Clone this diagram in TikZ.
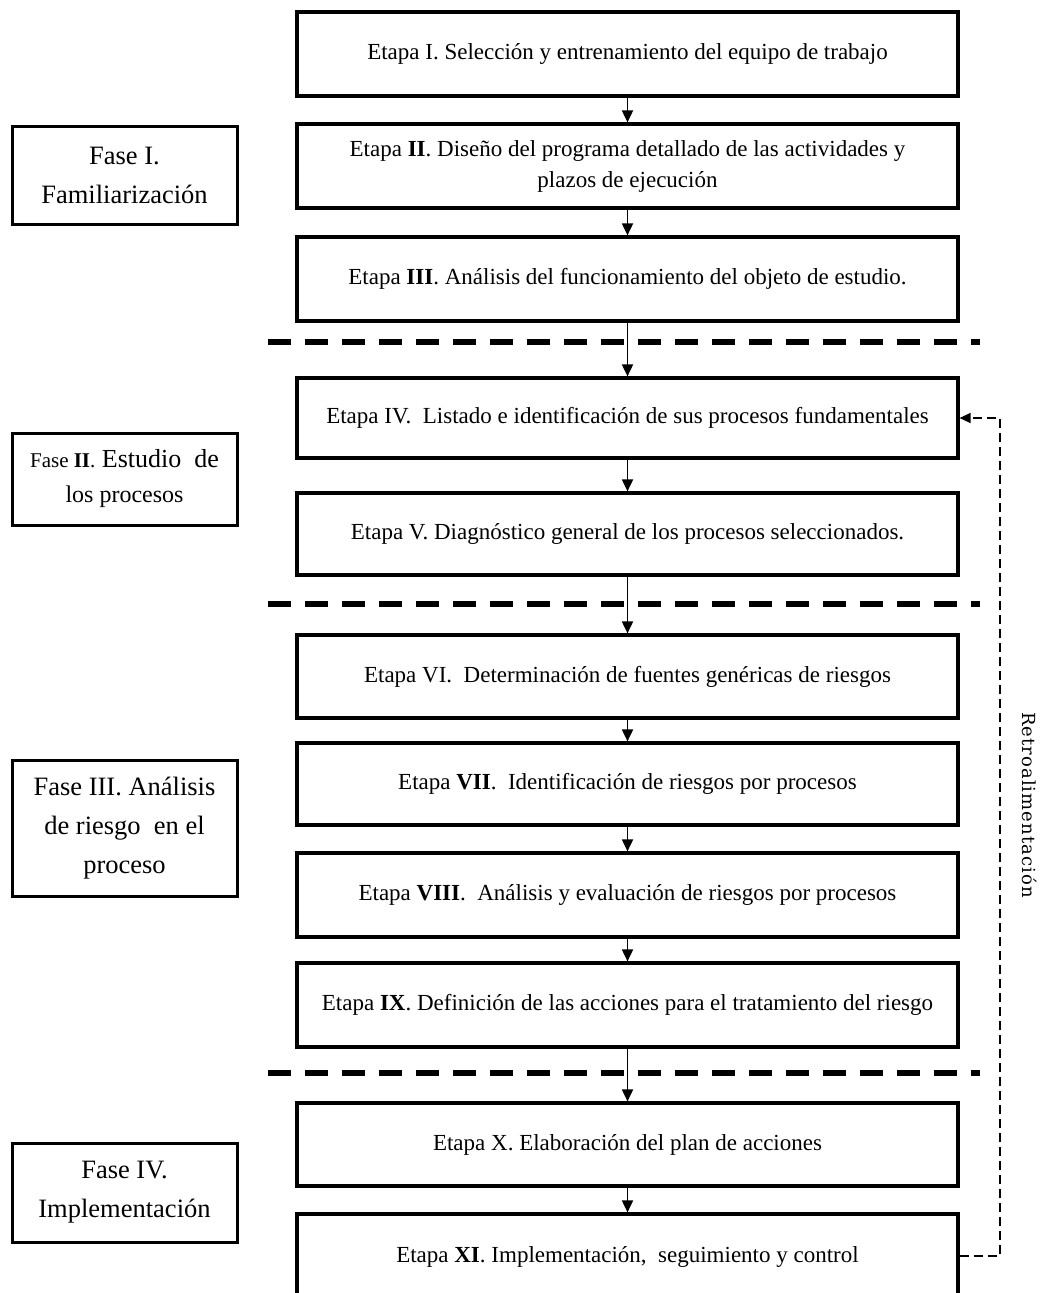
\documentclass[tikz,border=0pt]{standalone}
\usepackage{fontspec}
\setmainfont{Liberation Serif}
\newfontfamily\retrofont[LetterSpace=6]{DejaVu Serif}
\usetikzlibrary{arrows.meta}
\begin{document}
\begin{tikzpicture}[x=1pt,y=-1pt,
 stage/.style={draw, line width=3.2pt, minimum width=661pt, inner sep=0pt, align=center, font=\fontsize{23}{31}\selectfont},
 phase/.style={draw, line width=3pt, minimum width=225pt, inner sep=0pt, align=center, font=\fontsize{26.5}{39}\selectfont},
 flow/.style={line width=1.8pt, -{Triangle[length=12pt,width=11pt]}},
 sep/.style={line width=6pt, dash pattern=on 23pt off 14pt},
 fb/.style={line width=1.6pt, dash pattern=on 9pt off 5pt}
]
\useasboundingbox (0,0) rectangle (1049,1293);
\fill[white] (0,0) rectangle (1049,1293);

% separators
\coordinate (s1l) at (268,342); \coordinate (s1r) at (980,342);
\coordinate (s2l) at (268,604); \coordinate (s2r) at (980,604);
\coordinate (s3l) at (268,1073); \coordinate (s3r) at (980,1073);
\draw[sep] (s1l) -- (s1r);
\draw[sep] (s2l) -- (s2r);
\draw[sep] (s3l) -- (s3r);

% stages
\node[stage, minimum height=84pt] (e1) at (627.5,54) {Etapa I. Selección y entrenamiento del equipo de trabajo};
\node[stage, minimum height=84pt] (e2) at (627.5,166) {Etapa \textbf{II}. Diseño del programa detallado de las actividades y\\plazos de ejecución};
\node[stage, minimum height=84pt] (e3) at (627.5,279) {Etapa \textbf{III}. Análisis del funcionamiento del objeto de estudio.};
\node[stage, minimum height=80pt] (e4) at (627.5,418) {Etapa IV.\ \ Listado e identificación\ de sus procesos fundamentales};
\node[stage, minimum height=82pt] (e5) at (627.5,534) {Etapa V. Diagnóstico general de los procesos seleccionados.};
\node[stage, minimum height=83pt] (e6) at (627.5,676.5) {Etapa VI.\ \ Determinación\ de fuentes genéricas de riesgos};
\node[stage, minimum height=82pt] (e7) at (627.5,784) {Etapa \textbf{VII}.\ \ Identificación\ de riesgos por procesos};
\node[stage, minimum height=84pt] (e8) at (627.5,895) {Etapa \textbf{VIII}.\ \ Análisis y evaluación de riesgos por procesos};
\node[stage, minimum height=84pt] (e9) at (627.5,1005) {Etapa \textbf{IX}. Definición\ de las acciones para el tratamiento del riesgo};
\node[stage, minimum height=83pt] (e10) at (627.5,1144.5) {Etapa X. Elaboración\ del plan de acciones};
\node[stage, minimum height=86pt] (e11) at (627.5,1257) {Etapa \textbf{XI}. Implementación,\ \ seguimiento y control};

% phases
\node[phase, minimum height=98pt] (f1) at (124.5,175) {Fase I.\\Familiarización};
\node[phase, minimum height=92pt, font=\fontsize{26}{35}\selectfont] (f2) at (124.5,479) {{\fontsize{21}{35}\selectfont Fase \textbf{II}.} Estudio\ \ de\\{\fontsize{24}{35}\selectfont los procesos}};
\node[phase, minimum height=136pt] (f3) at (124.5,828) {Fase III. Análisis\\de riesgo\ \ en el\\proceso};
\node[phase, minimum height=99pt] (f4) at (124.5,1192.5) {Fase IV.\\Implementación};

% flow arrows
\draw[flow] (e1) -- (e2);
\draw[flow] (e2) -- (e3);
\draw[flow] (e3) -- (e4);
\draw[flow] (e4) -- (e5);
\draw[flow] (e5) -- (e6);
\draw[flow] (e6) -- (e7);
\draw[flow] (e7) -- (e8);
\draw[flow] (e8) -- (e9);
\draw[flow] (e9) -- (e10);
\draw[flow] (e10) -- (e11);

% feedback
\coordinate (fbA) at (1000,1256);
\coordinate (fbB) at (1000,418);
\draw[fb, -{Triangle[length=11pt,width=10pt]}] (e11.east |- fbA) -- (fbA) -- (fbB) -- (e4.east);
\node[font=\retrofont\fontsize{18}{18}\selectfont, rotate=-90] (rt) at (1030,805) {Retroalimentación};
\end{tikzpicture}
\end{document}
